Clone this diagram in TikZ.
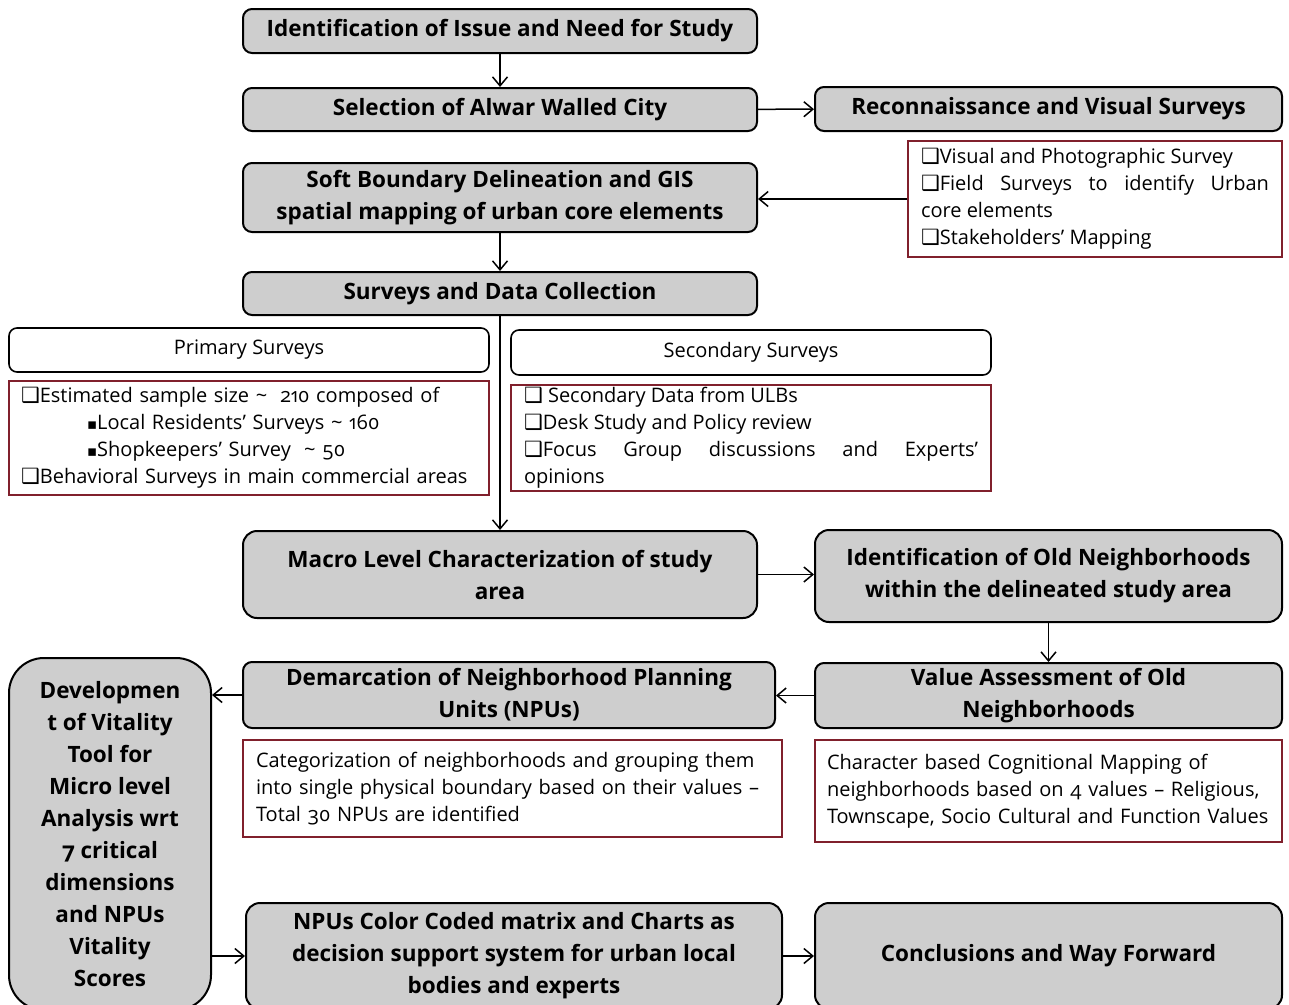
\documentclass[tikz,border=0pt]{standalone}
\usepackage{fontspec}
\setmainfont{Open Sans}[Numbers=OldStyle]
\newfontfamily\symfont{DejaVu Sans}
\usepackage{tikz}
\usetikzlibrary{arrows.meta, calc}
\definecolor{boxgray}{RGB}{206,206,206}
\definecolor{boxred}{RGB}{128,32,44}
\newcommand{\sqmark}{{\symfont\fontsize{21}{21}\selectfont ❑}}
\newcommand{\smallsq}{{\symfont\fontsize{15}{15}\selectfont ▪}}
\hyphenpenalty=10000
\exhyphenpenalty=10000

\begin{document}
\begin{tikzpicture}[x=1pt, y=-1pt,
  graybox/.style={draw, line width=2pt, rounded corners=9pt, fill=boxgray,
    align=center, inner sep=0pt, font=\bfseries\fontsize{22.5}{32}\selectfont},
  whitebox/.style={draw, line width=1.6pt, rounded corners=8pt, fill=white,
    inner sep=0pt, font=\fontsize{20}{24}\selectfont},
  listbox/.style={draw=boxred, line width=1.6pt, inner sep=0pt,
    font=\fontsize{20}{27}\selectfont},
  flow/.style={-{Straight Barb[length=9pt, width=15pt, line width=1.5pt]}, line width=1.5pt}]
\useasboundingbox (0,0) rectangle (1289,1004);
\node[graybox, minimum width=514pt, minimum height=44pt] (issue) at (500,31) {Identification of Issue and Need for Study};
\node[graybox, minimum width=514pt, minimum height=43pt] (alwar) at (500,109.5) {Selection of Alwar Walled City};
\node[graybox, minimum width=467pt, minimum height=44pt] (recon) at (1048.5,109) {Reconnaissance and Visual Surveys};
\node[listbox, minimum width=374pt, minimum height=116pt, text width=348pt, align=justify] (reconlist) at (1095,199)
  {\sqmark Visual and Photographic Survey\par
   \sqmark Field Surveys to identify Urban\linebreak core elements\par
   \sqmark Stakeholders’ Mapping};
\node[graybox, minimum width=514pt, minimum height=69pt] (gis) at (500,197.5) {Soft Boundary Delineation and GIS\\spatial mapping of urban core elements};
\node[graybox, minimum width=514pt, minimum height=43pt] (survey) at (500,293.5) {Surveys and Data Collection};
\node[whitebox, minimum width=480pt, minimum height=44pt] (primary) at (249,350) {Primary Surveys};
\node[listbox, minimum width=480pt, minimum height=114pt, text width=456pt, align=left] (primlist) at (249,438)
  {\sqmark Estimated sample size \textasciitilde{}\ \ 210 composed of\\
   \hspace*{66pt}\smallsq Local Residents’ Surveys \textasciitilde{}\ 160\\
   \hspace*{66pt}\smallsq Shopkeepers’ Survey\ \ \textasciitilde{} 50\\
   \sqmark Behavioral Surveys in main commercial areas};
\node[whitebox, minimum width=480pt, minimum height=45pt] (secondary) at (751,352.5) {Secondary Surveys};
\node[listbox, minimum width=480pt, minimum height=106pt, text width=454pt, align=justify] (seclist) at (751,438)
  {\sqmark\ Secondary Data from ULBs\par
   \sqmark Desk Study and Policy review\par
   \sqmark Focus Group discussions and Experts’\linebreak opinions};
\node[graybox, rounded corners=14pt, minimum width=514pt, minimum height=87pt] (macro) at (500,574.5) {Macro Level Characterization of study\\area};
\node[graybox, rounded corners=14pt, minimum width=467pt, minimum height=92pt] (oldnbh) at (1048.5,576) {Identification of Old Neighborhoods\\within the delineated study area};
\node[graybox, minimum width=532pt, minimum height=66pt] (npu) at (509,695) {Demarcation of Neighborhood Planning\\Units (NPUs)};
\node[graybox, minimum width=467pt, minimum height=65pt] (value) at (1048.5,695.5) {Value Assessment of Old\\Neighborhoods};
\node[listbox, minimum width=539pt, minimum height=97pt, text width=513pt, align=left] (npulist) at (512.5,788.5)
  {Categorization of neighborhoods and grouping them\\
   into single physical boundary based on their values –\\
   Total 30 NPUs are identified};
\node[listbox, minimum width=467pt, minimum height=102pt, text width=443pt, align=left] (valuelist) at (1048.5,791)
  {Character based Cognitional Mapping of\\
   neighborhoods based on 4 values – Religious,\\
   Townscape, Socio Cultural and Function Values};
\node[graybox, rounded corners=35pt, minimum width=202pt, minimum height=352pt] (vitality) at (110,834)
  {Developmen\\t of Vitality\\Tool for\\Micro level\\Analysis wrt\\7 critical\\dimensions\\and NPUs\\Vitality\\Scores};
\node[graybox, rounded corners=14pt, minimum width=536pt, minimum height=106pt] (matrix) at (514,956)
  {NPUs Color Coded matrix and Charts as\\decision support system for urban local\\bodies and experts};
\node[graybox, rounded corners=14pt, minimum width=467pt, minimum height=106pt] (concl) at (1048.5,956) {Conclusions and Way Forward};
\draw[flow] (issue) -- (alwar);
\draw[flow] (alwar) -- (recon);
\draw[flow] (reconlist.west) -- (reconlist.west -| gis.east);
\draw[flow] (gis) -- (survey);
\draw[flow] (survey) -- (macro);
\draw[flow] (macro.east) -- (macro.east -| oldnbh.west);
\draw[flow] (oldnbh) -- (value);
\draw[flow] (value.west) -- (value.west -| npu.east);
\draw[flow] (npu.west) -- (npu.west -| vitality.east);
\draw[flow] (matrix.west -| vitality.east) -- (matrix.west);
\draw[flow] (matrix) -- (concl);
\end{tikzpicture}
\end{document}
